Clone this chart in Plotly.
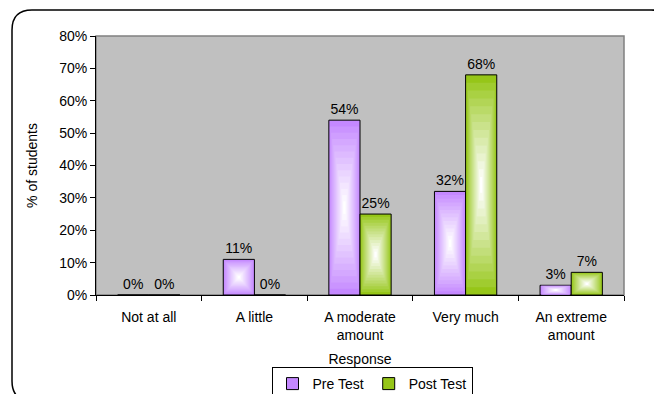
import plotly.graph_objects as go

# Survey responses: share of students per answer, before and after
categories = ["Not at all", "A little", "A moderate<br>amount", "Very much", "An extreme<br>amount"]
pre_test = [0.00, 0.11, 0.54, 0.32, 0.03]
post_test = [0.00, 0.00, 0.25, 0.68, 0.07]
series_names = ["Pre Test", "Post Test"]

FONT = "Liberation Sans, Arial, sans-serif"
FS = 14
FIG_W, FIG_H = 654, 394
L, T = 96, 36      # plot area offset
W, H = 528, 259    # plot area size
BOTTOM = T + H
BAR_W = 0.295
N_LAYERS = 14

edge_colors = [(196, 136, 255), (150, 198, 24)]


def mix(c, t):
    r, g, b = (int(round(v + (255 - v) * t)) for v in c)
    return f"rgb({r},{g},{b})"


def px(x):
    return (x - L) / W


def py(y):
    return (BOTTOM - y) / H


fig = go.Figure()

offsets = [-BAR_W, 0.0]
values = [pre_test, post_test]

# outline bars (carry legend entries and value labels)
for name, vals, off, col in zip(series_names, values, offsets, edge_colors):
    fig.add_trace(go.Bar(
        x=categories, y=vals, name=name,
        width=BAR_W, offset=off,
        marker=dict(color=mix(col, 0.0), line=dict(color="black", width=1)),
        text=[f"{v:.0%}" for v in vals], textposition="outside",
        textfont=dict(family=FONT, size=FS, color="black"),
        cliponaxis=False, hoverinfo="skip",
    ))

# concentric layers give the centre-out gradient fill
for k in range(1, N_LAYERS):
    f = 0.5 * k / N_LAYERS
    t = (k / (N_LAYERS - 1)) ** 0.9
    for vals, off, col in zip(values, offsets, edge_colors):
        fig.add_trace(go.Bar(
            x=categories,
            y=[v * (1 - 2 * f) for v in vals],
            base=[v * f for v in vals],
            width=BAR_W * (1 - 2 * f), offset=off + BAR_W * f,
            marker=dict(color=mix(col, t), line=dict(width=0)),
            showlegend=False, hoverinfo="skip",
        ))

# chart area border with rounded corners
fig.add_shape(
    type="path", xref="paper", yref="paper",
    path=(f"M {px(32)},{py(401)} Q {px(12)},{py(401)} {px(12)},{py(381)} "
          f"L {px(12)},{py(30)} Q {px(12)},{py(10)} {px(32)},{py(10)} "
          f"L {px(651)},{py(10)} Q {px(671)},{py(10)} {px(671)},{py(30)} "
          f"L {px(671)},{py(401)}"),
    line=dict(color="black", width=1.5), layer="below",
)
# plot area frame
fig.add_shape(type="rect", xref="paper", yref="paper", x0=0, y0=0, x1=1, y1=1,
              line=dict(color="#808080", width=1.5), layer="below")

fig.update_layout(
    width=FIG_W, height=FIG_H,
    margin=dict(l=L, r=FIG_W - L - W, t=T, b=FIG_H - BOTTOM, autoexpand=False),
    paper_bgcolor="white", plot_bgcolor="#C0C0C0",
    barmode="overlay",
    font=dict(family=FONT, size=FS, color="black"),
    showlegend=True,
    legend=dict(
        orientation="h", xref="container", yref="container",
        x=372 / FIG_W, xanchor="center", y=(FIG_H - 367) / FIG_H, yanchor="top",
        bordercolor="black", borderwidth=1, bgcolor="white",
        font=dict(family=FONT, size=FS), itemwidth=30,
        tracegroupgap=0,
    ),
    xaxis=dict(
        showline=True, linecolor="black", linewidth=1,
        ticks="outside", tickson="boundaries", ticklen=5, tickcolor="black",
        ticklabelstandoff=9,
        showgrid=False, zeroline=False,
        title=dict(text="Response", standoff=12, font=dict(size=FS)),
        tickfont=dict(size=FS),
    ),
    yaxis=dict(
        range=[0, 0.8], dtick=0.1, tickformat=".0%",
        showline=True, linecolor="black", linewidth=1,
        ticks="outside", ticklen=5, tickcolor="black",
        showgrid=False, zeroline=False,
        title=dict(text="% of students", standoff=18, font=dict(size=FS)),
        tickfont=dict(size=FS),
    ),
)

fig.write_html("out.html")
